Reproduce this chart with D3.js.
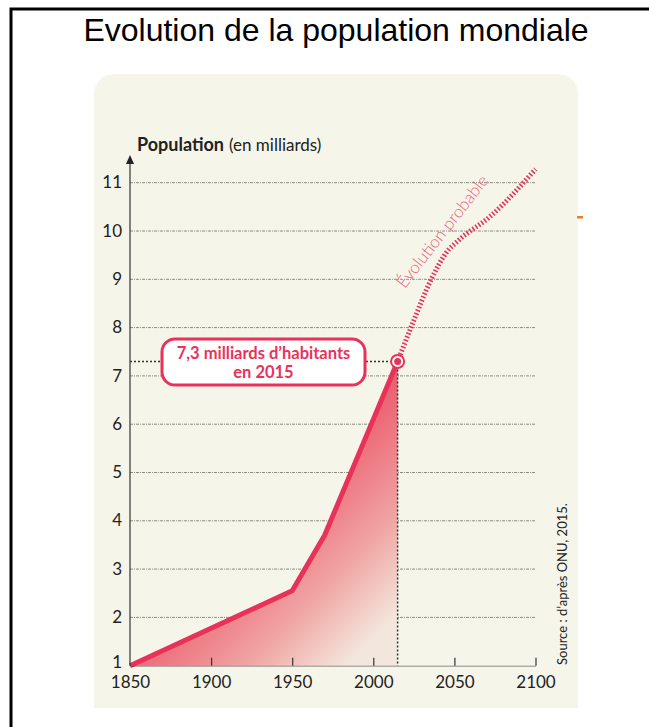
<!DOCTYPE html>
<html>
<head>
<meta charset="utf-8">
<script src="https://cdn.jsdelivr.net/npm/d3@7"></script>
<style>
body { margin: 0; background: #fff; }
</style>
</head>
<body>
<div id="canvas"></div>
<script>

// data
var years = [1850, 1950, 1970, 2000, 2015];
var pop = [1.0, 2.55, 3.7, 6.1, 7.3];
var projYears = [2015, 2025, 2035, 2045, 2053, 2072, 2100];
var projPop = [7.3, 8.15, 8.95, 9.55, 9.82, 10.3, 11.28];
var yTicks = [1, 2, 3, 4, 5, 6, 7, 8, 9, 10, 11];
var xTicks = [1850, 1900, 1950, 2000, 2050, 2100];

var width = 649, height = 727;
var red = "#e8325a";

var svg = d3.select("#canvas").append("svg")
    .attr("width", width).attr("height", height);

// outer frame
svg.append("path")
    .attr("d", "M11,727 V9 H649")
    .attr("fill", "none").attr("stroke", "#000").attr("stroke-width", 3);

svg.append("text")
    .attr("x", 336).attr("y", 41)
    .attr("text-anchor", "middle")
    .attr("font-family", "Liberation Sans, Arial, sans-serif")
    .attr("font-size", 32)
    .text("Evolution de la population mondiale");

// beige panel
svg.append("rect")
    .attr("x", 94).attr("y", 74).attr("width", 484).attr("height", 634)
    .attr("rx", 20).attr("fill", "#f6f5ea");
svg.append("rect")
    .attr("x", 94).attr("y", 660).attr("width", 484).attr("height", 48)
    .attr("fill", "#f6f5ea");

// little orange mark
svg.append("rect")
    .attr("x", 577).attr("y", 216).attr("width", 6).attr("height", 2.5)
    .attr("fill", "#f07d1a");

var x = d3.scaleLinear().domain([1850, 2100]).range([130, 535.5]);
var y = d3.scaleLinear().domain([1, 11]).range([665.7, 182.7]);

var defs = svg.append("defs");
var grad = defs.append("linearGradient").attr("id", "fillGrad")
    .attr("x1", "0").attr("y1", "0.2").attr("x2", "0.75").attr("y2", "1.05");
grad.append("stop").attr("offset", "0").attr("stop-color", "#e94862");
grad.append("stop").attr("offset", "0.5").attr("stop-color", "#ec6272");
grad.append("stop").attr("offset", "0.78").attr("stop-color", "#f0a4a2");
grad.append("stop").attr("offset", "1").attr("stop-color", "#f3e6dc");

// grid lines
svg.append("g").selectAll("line").data(yTicks.slice(1)).enter().append("line")
    .attr("x1", x(1850)).attr("x2", x(2100))
    .attr("y1", function(d) { return y(d); })
    .attr("y2", function(d) { return y(d); })
    .attr("stroke", "#8c8c86").attr("stroke-width", 1)
    .attr("stroke-dasharray", "3 1 1 1");

// area + line
var pts = years.map(function(d, i) { return [d, pop[i]]; });
var area = d3.area()
    .x(function(d) { return x(d[0]); })
    .y0(y(1))
    .y1(function(d) { return y(d[1]); });
svg.append("path").datum(pts)
    .attr("d", area).attr("fill", "url(#fillGrad)");

// guide lines to 2015
svg.append("line")
    .attr("x1", x(2015)).attr("x2", x(2015))
    .attr("y1", y(7.3)).attr("y2", y(1))
    .attr("stroke", "#333").attr("stroke-width", 1.5)
    .attr("stroke-dasharray", "2 2");
svg.append("line")
    .attr("x1", x(1850)).attr("x2", x(2015))
    .attr("y1", y(7.3)).attr("y2", y(7.3))
    .attr("stroke", "#333").attr("stroke-width", 1.5)
    .attr("stroke-dasharray", "2 2");

var line = d3.line()
    .x(function(d) { return x(d[0]); })
    .y(function(d) { return y(d[1]); });
svg.append("path").datum(pts)
    .attr("d", line).attr("fill", "none")
    .attr("stroke", red).attr("stroke-width", 5)
    .attr("stroke-linejoin", "round");

// projection
var proj = projYears.map(function(d, i) { return [d, projPop[i]]; });
svg.append("path").datum(proj)
    .attr("d", line.curve(d3.curveMonotoneX)).attr("fill", "none")
    .attr("stroke", red).attr("stroke-width", 5)
    .attr("stroke-dasharray", "1.6 2");

svg.append("text")
    .attr("transform", "translate(447,235) rotate(-52)")
    .attr("text-anchor", "middle")
    .attr("font-family", "Lato, sans-serif")
    .attr("font-weight", 300)
    .attr("font-size", 17)
    .attr("fill", "#ec5f7e")
    .text("Évolution  probable");

// y axis
var yAxis = d3.axisLeft(y).tickValues(yTicks).tickSize(0).tickPadding(8)
    .tickFormat(d3.format("d"));
var gy = svg.append("g").attr("transform", "translate(" + x(1850) + ",0)").call(yAxis);
gy.select(".domain").remove();
gy.selectAll("text")
    .attr("font-family", "Lato, sans-serif").attr("font-size", 17)
    .attr("fill", "#222")
    .attr("dy", function(d) { return d === 1 ? "0.08em" : "0.3em"; });
svg.append("line")
    .attr("x1", x(1850)).attr("x2", x(1850))
    .attr("y1", y(1)).attr("y2", 162)
    .attr("stroke", "#333").attr("stroke-width", 1.2);
svg.append("path")
    .attr("d", "M" + x(1850) + ",155 l-4,9 h8 z")
    .attr("fill", "#222");

// x axis
var xAxis = d3.axisBottom(x).tickValues(xTicks).tickSizeInner(-8)
    .tickSizeOuter(0).tickPadding(14).tickFormat(d3.format("d"));
var gx = svg.append("g").attr("transform", "translate(0," + y(1) + ")").call(xAxis);
gx.select(".domain").attr("stroke", "#444").attr("stroke-width", 0.6);
gx.selectAll(".tick line").attr("stroke", "#333").attr("stroke-width", 1.2)
    .filter(function(d) { return d === 1850; }).remove();
gx.selectAll("text")
    .attr("font-family", "Lato, sans-serif").attr("font-size", 17)
    .attr("fill", "#222").attr("dy", "0.5em");

// axis title
var ttl = svg.append("text").attr("x", 137).attr("y", 151)
    .attr("font-family", "Lato, sans-serif").attr("fill", "#222");
ttl.append("tspan").attr("font-weight", 700).attr("font-size", 18).text("Population");
ttl.append("tspan").attr("font-size", 17).attr("dx", 5).text("(en milliards)");

// annotation box
svg.append("rect")
    .attr("x", 162).attr("y", 339).attr("width", 203).attr("height", 46)
    .attr("rx", 13).attr("fill", "#fff")
    .attr("stroke", red).attr("stroke-width", 3);
var ann = svg.append("text")
    .attr("text-anchor", "middle")
    .attr("font-family", "Lato, sans-serif").attr("font-weight", 700)
    .attr("font-size", 16.5).attr("fill", red);
ann.append("tspan").attr("x", 263.5).attr("y", 359).text("7,3 milliards d\u2019habitants");
ann.append("tspan").attr("x", 263.5).attr("y", 378).text("en 2015");

// 2015 dot
svg.append("circle").attr("cx", x(2015)).attr("cy", y(7.3)).attr("r", 6.5)
    .attr("fill", "#fff").attr("stroke", red).attr("stroke-width", 2);
svg.append("circle").attr("cx", x(2015)).attr("cy", y(7.3)).attr("r", 3.5)
    .attr("fill", red);

// source
svg.append("text")
    .attr("transform", "translate(567,665) rotate(-90)")
    .attr("font-family", "Lato, sans-serif").attr("font-size", 13)
    .attr("fill", "#222")
    .text("Source : d\u2019apr\u00e8s ONU, 2015.");

</script>
</body>
</html>
